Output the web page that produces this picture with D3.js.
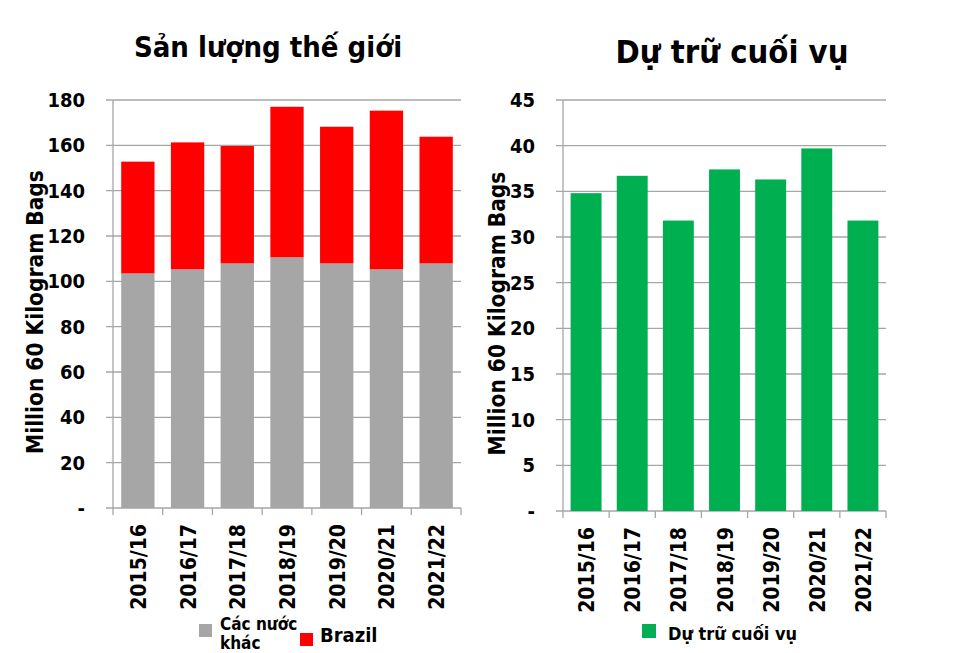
<!DOCTYPE html>
<html><head><meta charset="utf-8">
<script src="https://cdn.jsdelivr.net/npm/d3@7"></script>
<style>
body{margin:0;background:#fff;}
svg text{font-family:"DejaVu Sans Condensed","DejaVu Sans",sans-serif;font-weight:bold;font-stretch:condensed;fill:#000;}
</style></head>
<body><svg id="c" width="955" height="653"></svg>
<script>
const categories = ["2015/16","2016/17","2017/18","2018/19","2019/20","2020/21","2021/22"];
const otherCountries = [103.5,105.3,107.9,110.6,107.9,105.3,107.9];
const brazil = [49.3,56.0,51.8,66.4,60.3,70.0,55.9];
const endingStocks = [34.8,36.7,31.8,37.4,36.3,39.7,31.8];
const leftTicks = [0,20,40,60,80,100,120,140,160,180];
const rightTicks = [0,5,10,15,20,25,30,35,40,45];
const titles = ["Sản lượng thế giới","Dự trữ cuối vụ"];
const yLabel = "Million 60 Kilogram Bags";
const legendLeft = ["Các nước","khác","Brazil"];
const legendRight = "Dự trữ cuối vụ";
const colors = {other:"#a6a6a6", brazil:"#ff0000", stock:"#00b050", grid:"#a6a6a6"};

const svg = d3.select("#c");

function panel(opts){
  const g = svg.append("g");
  const x = d3.scaleBand().domain(categories).range([opts.x0,opts.x1]).paddingInner(0.33).paddingOuter(0.165);
  const y = d3.scaleLinear().domain([0,opts.max]).range([opts.y0,opts.yTop]);
  g.append("g").selectAll("line").data(opts.ticks).join("line")
    .attr("x1",opts.x0-7).attr("x2",opts.x1)
    .attr("y1",d=>y(d)).attr("y2",d=>y(d))
    .attr("stroke",colors.grid).attr("stroke-width",1.3);
  g.append("line").attr("x1",opts.x0).attr("x2",opts.x0).attr("y1",opts.yTop).attr("y2",opts.y0)
    .attr("stroke",colors.grid).attr("stroke-width",1.3);
  g.append("g").selectAll("text").data(opts.ticks).join("text")
    .attr("x",opts.x0-28).attr("y",d=>y(d)).attr("dy","0.35em")
    .attr("text-anchor","end").attr("font-size",20)
    .text(d=>d===0?"-":d);
  opts.drawBars(g,x,y);
  const bounds = d3.range(categories.length+1).map(i=>opts.x0 + i*(opts.x1-opts.x0)/categories.length);
  g.append("g").selectAll("line").data(bounds).join("line")
    .attr("x1",d=>d).attr("x2",d=>d).attr("y1",opts.y0).attr("y2",opts.y0+7)
    .attr("stroke",colors.grid).attr("stroke-width",1.3);
  g.append("g").selectAll("text").data(categories).join("text")
    .attr("transform",d=>`translate(${x(d)+x.bandwidth()/2+8},${opts.y0+16}) rotate(-90)`)
    .attr("text-anchor","end").attr("font-size",21)
    .text(d=>d);
  g.append("text").attr("transform",`translate(${opts.labelX},${(opts.y0+opts.yTop)/2+8}) rotate(-90)`)
    .attr("text-anchor","middle").attr("font-size",22.5).text(yLabel);
  g.append("text").attr("x",opts.titleX).attr("y",opts.titleY).attr("text-anchor","middle")
    .attr("font-size",opts.titleSize).text(opts.title);
  return {x,y};
}

panel({x0:113,x1:461,y0:508,yTop:100,max:180,ticks:leftTicks,labelX:43,
  title:titles[0],titleX:268,titleY:57,titleSize:29,
  drawBars:(g,x,y)=>{
    const stack = d3.stack().keys(["other","brazil"])(categories.map((c,i)=>({cat:c,other:otherCountries[i],brazil:brazil[i]})));
    g.append("g").selectAll("g").data(stack).join("g")
      .attr("fill",d=>colors[d.key])
      .selectAll("rect").data(d=>d).join("rect")
      .attr("x",d=>x(d.data.cat)).attr("width",x.bandwidth())
      .attr("y",d=>y(d[1])).attr("height",d=>y(d[0])-y(d[1]));
  }});

panel({x0:563,x1:886,y0:511,yTop:100,max:45,ticks:rightTicks,labelX:505,
  title:titles[1],titleX:732,titleY:63,titleSize:32.5,
  drawBars:(g,x,y)=>{
    g.append("g").selectAll("rect").data(categories).join("rect")
      .attr("fill",colors.stock)
      .attr("x",d=>x(d)).attr("width",x.bandwidth())
      .attr("y",(d,i)=>y(endingStocks[i])).attr("height",(d,i)=>y(0)-y(endingStocks[i]));
  }});

const lg = svg.append("g");
lg.append("rect").attr("x",199).attr("y",624).attr("width",13).attr("height",13).attr("fill",colors.other);
lg.append("text").attr("x",220).attr("y",630).attr("font-size",17).text(legendLeft[0]);
lg.append("text").attr("x",220).attr("y",649).attr("font-size",17).text(legendLeft[1]);
lg.append("rect").attr("x",300).attr("y",633).attr("width",13).attr("height",13).attr("fill",colors.brazil);
lg.append("text").attr("x",320).attr("y",642).attr("font-size",20).text(legendLeft[2]);
lg.append("rect").attr("x",642).attr("y",624).attr("width",14).attr("height",14).attr("fill",colors.stock);
lg.append("text").attr("x",668).attr("y",640).attr("font-size",18).text(legendRight);
</script></body></html>
